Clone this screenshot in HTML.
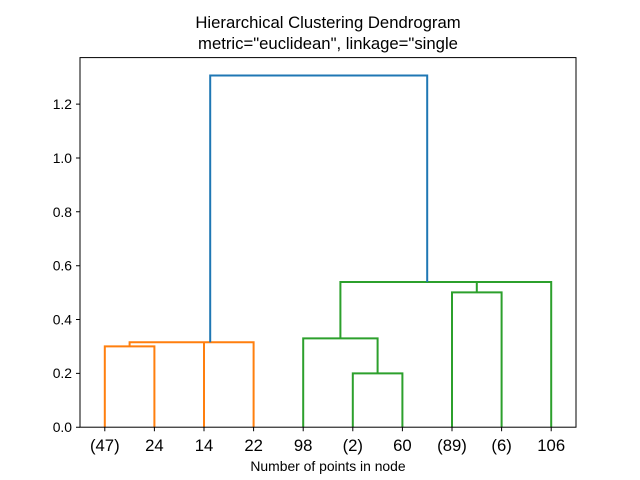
<!DOCTYPE html>
<html><head><meta charset="utf-8"><style>body{margin:0;background:#fff}svg{display:block}</style></head><body>
<svg width="640" height="480" xmlns="http://www.w3.org/2000/svg" font-family="Liberation Sans, DejaVu Sans, sans-serif">
<rect width="640" height="480" fill="#fff"/>
<g fill="none" stroke-width="2" stroke-linejoin="miter">
<path stroke="#ff7f0e" d="M104.8,427.2V346.4H154.4V427.2"/>
<path stroke="#ff7f0e" d="M129.6,346.4V342.2H253.6V427.2"/>
<path stroke="#ff7f0e" d="M204,342.2V427.2"/>
<path stroke="#2ca02c" d="M352.8,427.2V373.4H402.4V427.2"/>
<path stroke="#2ca02c" d="M303.2,427.2V338.4H377.6V373.4"/>
<path stroke="#2ca02c" d="M452,427.2V292.4H501.6V427.2"/>
<path stroke="#2ca02c" d="M476.8,292.4V282"/>
<path stroke="#2ca02c" d="M340.4,338.4V282H551.2V427.2"/>
<path stroke="#1f77b4" d="M210.2,342.2V75.5H427.2V282"/>
</g>
<rect x="80" y="57.6" width="496" height="369.6" fill="none" stroke="#000" stroke-width="1"/>
<g stroke="#000" stroke-width="1">
<path d="M80,427.2h-4M80,373.4h-4M80,319.5h-4M80,265.7h-4M80,211.8h-4M80,158h-4M80,104.1h-4"/>
<path d="M104.8,427.2v4M154.4,427.2v4M204,427.2v4M253.6,427.2v4M303.2,427.2v4M352.8,427.2v4M402.4,427.2v4M452,427.2v4M501.6,427.2v4M551.2,427.2v4"/>
</g>
<g font-size="13.9" text-anchor="end" fill="#000">
<text x="72" y="432">0.0</text><text x="72" y="378">0.2</text><text x="72" y="324.5">0.4</text><text x="72" y="270.5">0.6</text><text x="72" y="216.8">0.8</text><text x="72" y="163">1.0</text><text x="72" y="109">1.2</text>
</g>
<g font-size="16.7" text-anchor="middle" fill="#000">
<text x="104.8" y="451">(47)</text><text x="154.4" y="451">24</text><text x="204" y="451">14</text><text x="253.6" y="451">22</text><text x="303.2" y="451">98</text><text x="352.8" y="451">(2)</text><text x="402.4" y="451">60</text><text x="452" y="451">(89)</text><text x="501.6" y="451">(6)</text><text x="551.2" y="451">106</text>
</g>
<text x="328" y="471" font-size="13.9" text-anchor="middle">Number of points in node</text>
<text x="328" y="28" font-size="16.7" text-anchor="middle">Hierarchical Clustering Dendrogram</text>
<text x="328" y="49" font-size="16.7" text-anchor="middle">metric="euclidean", linkage="single</text>
</svg>
</body></html>
